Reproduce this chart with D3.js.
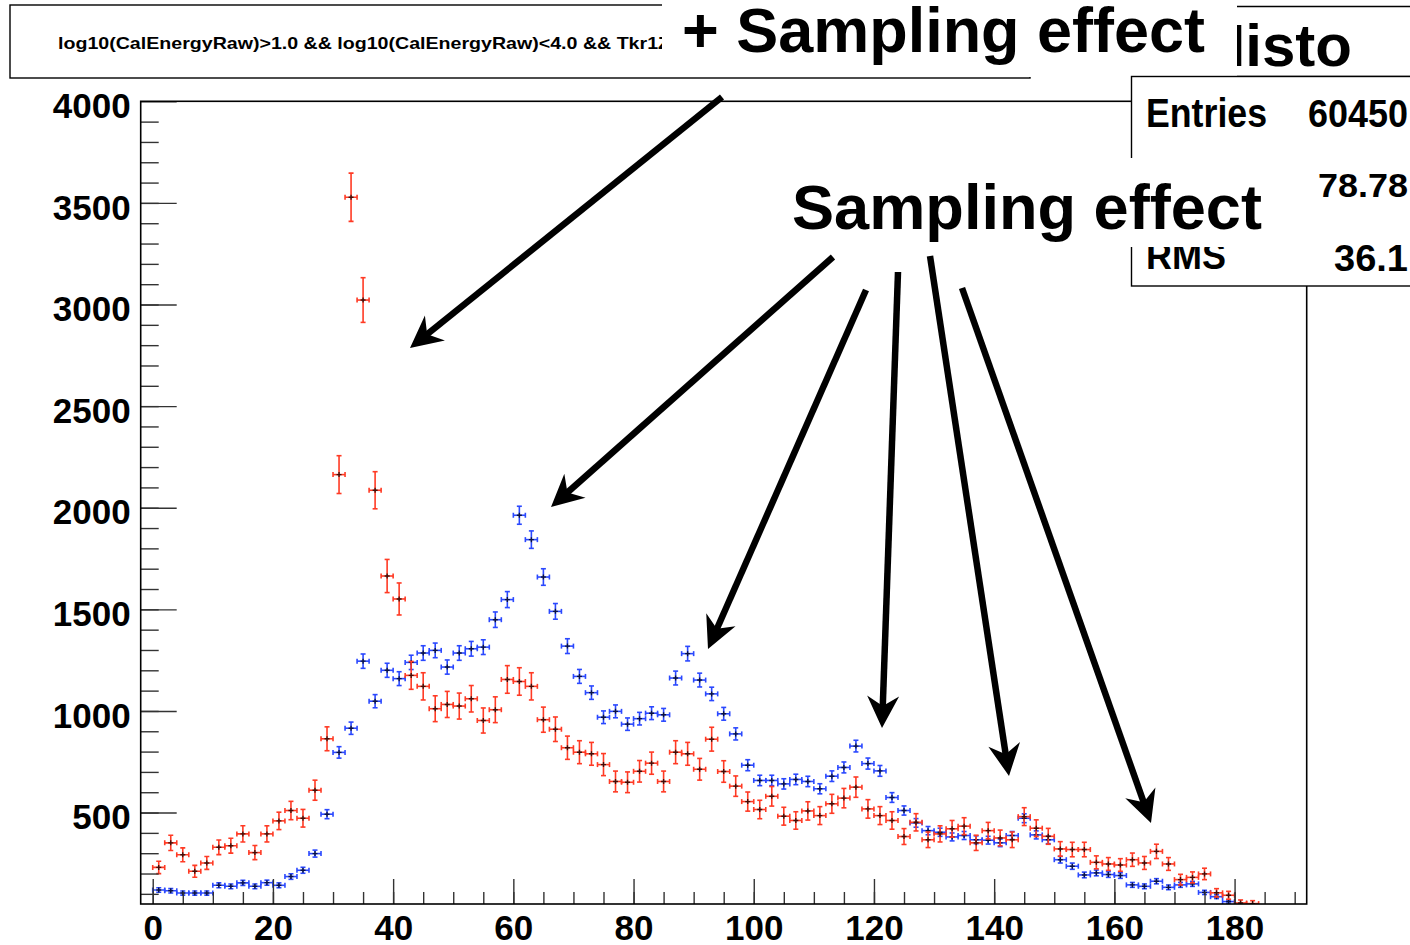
<!DOCTYPE html>
<html>
<head>
<meta charset="utf-8">
<script src="https://cdn.jsdelivr.net/npm/d3@7"></script>
<style>
  html, body { margin: 0; padding: 0; background: #fff; }
  svg { display: block; }
  text { font-family: "Liberation Sans", Arial, Helvetica, sans-serif; font-weight: bold; }
</style>
</head>
<body>
<svg id="chart" width="1410" height="945"></svg>
<script>
// ---------------- DATA ----------------
// bin centres (bin width 2)
const binCenters = d3.range(1, 184, 2);
// red histogram (weighted, weight 4)
const redValues = [230, 351, 292, 211, 252, 329, 337, 395, 303, 395,
  459, 510, 472, 610, 863, 2163, 3528, 3022, 2086, 1664,
  1551, 1175, 1121, 1011, 1032, 1024, 1060, 953, 1006, 1155,
  1145, 1121, 957, 910, 819, 797, 789, 736, 653, 649,
  703, 743, 653, 797, 789, 713, 861, 702, 630, 554,
  515, 580, 482, 461, 508, 485, 543, 571, 625, 518,
  485, 461, 382, 452, 366, 395, 420, 433, 351, 411,
  375, 366, 480, 423, 383, 321, 318, 318, 255, 247,
  242, 268, 252, 309, 247, 170, 181, 198, 105, 93,
  55, 52];
// blue histogram (unit weights)
const blueValues = [119, 115, 104, 104, 104, 142, 137, 154, 137, 155,
  142, 185, 216, 298, 492, 796, 915, 1245, 1048, 1200,
  1159, 1239, 1285, 1298, 1216, 1285, 1306, 1314, 1449, 1548,
  1963, 1843, 1659, 1490, 1319, 1170, 1090, 969, 998, 935,
  962, 989, 981, 1162, 1282, 1152, 1084, 986, 887, 733,
  658, 658, 641, 663, 653, 617, 679, 722, 827, 741,
  705, 574, 510, 449, 411, 403, 380, 387, 366, 364,
  351, 387, 472, 390, 366, 268, 236, 193, 203, 195,
  190, 144, 137, 162, 132, 144, 149, 107, 86, 62];
const redWeight = 4;   // error = sqrt(weight * content)
const blueWeight = 1;
const binHalfWidth = 1;

const xMajorTicks = [0, 20, 40, 60, 80, 100, 120, 140, 160, 180];
const yMajorTicks = [500, 1000, 1500, 2000, 2500, 3000, 3500, 4000];
const xDomain = [-2, 192];
const yDomain = [50, 4000];

const titleText = "log10(CalEnergyRaw)>1.0 && log10(CalEnergyRaw)<4.0 && Tkr1Z";
const statsTitle = "Histo";
const statsRows = [["Entries", "60450"], ["Mean", "78.78"], ["RMS", "36.1"]];
const annotationTop = "+ Sampling effect";
const annotationMid = "Sampling effect";

// ---------------- LAYOUT ----------------
const svg = d3.select("#chart");
const frame = {left: 140.7, right: 1306.7, top: 101.3, bottom: 904};
const x = d3.scaleLinear().domain(xDomain).range([frame.left, frame.right]);
const y = d3.scaleLinear().domain(yDomain).range([frame.bottom, frame.top]);

const RED = "#ff3a24";
const BLUE = "#2a48ff";

svg.append("rect").attr("width", 1410).attr("height", 945).attr("fill", "#fff");

const defs = svg.append("defs");
defs.append("clipPath").attr("id", "plotclip")
  .append("rect").attr("x", frame.left).attr("y", frame.top)
  .attr("width", frame.right - frame.left).attr("height", frame.bottom - frame.top);

// ---------------- DATA MARKS ----------------
function drawSeries(values, weight, color) {
  const pts = values.map((v, i) => ({c: binCenters[i], v: v, e: Math.sqrt(weight * v)}))
    .filter(d => d.v >= yDomain[0]);
  const g = svg.append("g").attr("clip-path", "url(#plotclip)")
    .attr("stroke", color).attr("stroke-width", 1.6).attr("fill", "none");
  const pg = g.selectAll("g.pt").data(pts).join("g").attr("class", "pt");
  pg.append("line")
    .attr("x1", d => x(d.c - binHalfWidth)).attr("x2", d => x(d.c + binHalfWidth))
    .attr("y1", d => y(d.v)).attr("y2", d => y(d.v));
  pg.append("line")
    .attr("x1", d => x(d.c - binHalfWidth)).attr("x2", d => x(d.c - binHalfWidth))
    .attr("y1", d => y(d.v) - 2.5).attr("y2", d => y(d.v) + 2.5);
  pg.append("line")
    .attr("x1", d => x(d.c + binHalfWidth)).attr("x2", d => x(d.c + binHalfWidth))
    .attr("y1", d => y(d.v) - 2.5).attr("y2", d => y(d.v) + 2.5);
  pg.append("line")
    .attr("x1", d => x(d.c)).attr("x2", d => x(d.c))
    .attr("y1", d => y(d.v - d.e)).attr("y2", d => y(d.v + d.e));
  pg.append("line")
    .attr("x1", d => x(d.c) - 2.5).attr("x2", d => x(d.c) + 2.5)
    .attr("y1", d => y(d.v - d.e)).attr("y2", d => y(d.v - d.e));
  pg.append("line")
    .attr("x1", d => x(d.c) - 2.5).attr("x2", d => x(d.c) + 2.5)
    .attr("y1", d => y(d.v + d.e)).attr("y2", d => y(d.v + d.e));
  pg.append("path")
    .attr("d", d => `M${x(d.c) - 2.5},${y(d.v)}H${x(d.c) + 2.5}M${x(d.c)},${y(d.v) - 2.5}V${y(d.v) + 2.5}`)
    .attr("stroke", "#000").attr("stroke-opacity", 0.75).attr("stroke-width", 1.4);
}
drawSeries(blueValues, blueWeight, BLUE);
drawSeries(redValues, redWeight, RED);

// ---------------- AXES ----------------
const axisFont = 35;
const tickColor = "#333";

const xMinor = svg.append("g").attr("transform", `translate(0,${frame.bottom})`)
  .call(d3.axisBottom(x).tickValues(d3.range(0, 191, 5)).tickSizeInner(-12).tickSizeOuter(0).tickFormat(""));
const xMajor = svg.append("g").attr("transform", `translate(0,${frame.bottom})`)
  .call(d3.axisBottom(x).tickValues(xMajorTicks).tickSizeInner(-25).tickSizeOuter(0).tickPadding(11).tickFormat(d3.format("d")));
const yMinor = svg.append("g").attr("transform", `translate(${frame.left},0)`)
  .call(d3.axisLeft(y).tickValues(d3.range(100, 4000, 100)).tickSizeInner(-18).tickSizeOuter(0).tickFormat(""));
const yMajor = svg.append("g").attr("transform", `translate(${frame.left},0)`)
  .call(d3.axisLeft(y).tickValues(yMajorTicks).tickSizeInner(-36).tickSizeOuter(0).tickPadding(10).tickFormat(d3.format("d")));

[xMinor, xMajor, yMinor, yMajor].forEach(g => {
  g.select(".domain").remove();
  g.selectAll(".tick line").attr("stroke", tickColor).attr("stroke-width", 1.4);
  g.selectAll(".tick text").attr("font-size", axisFont).attr("fill", "#000")
    .attr("font-family", "'Liberation Sans', Arial, sans-serif").attr("font-weight", "bold");
});
yMajor.selectAll(".tick text").attr("dy", "0.46em");

svg.append("rect").attr("x", frame.left).attr("y", frame.top)
  .attr("width", frame.right - frame.left).attr("height", frame.bottom - frame.top)
  .attr("fill", "none").attr("stroke", "#000").attr("stroke-width", 1.6);

// ---------------- TITLE BOX ----------------
svg.append("rect").attr("x", 10).attr("y", 5).attr("width", 1020).attr("height", 73)
  .attr("fill", "#fff").attr("stroke", "#000").attr("stroke-width", 1.4);
defs.append("clipPath").attr("id", "titleclip")
  .append("rect").attr("x", 10).attr("y", 5).attr("width", 652).attr("height", 73);
svg.append("text").attr("clip-path", "url(#titleclip)")
  .attr("x", 58).attr("y", 49).attr("font-size", 16.5)
  .attr("textLength", 612).attr("lengthAdjust", "spacingAndGlyphs")
  .text(titleText);

svg.append("rect").attr("x", 662).attr("y", 0).attr("width", 575).attr("height", 77).attr("fill", "#fff");
svg.append("text").attr("x", 682).attr("y", 52).attr("font-size", 63)
  .attr("textLength", 523).attr("lengthAdjust", "spacingAndGlyphs").text(annotationTop);

// ---------------- STATS BOX ----------------
defs.append("clipPath").attr("id", "histoclip")
  .append("rect").attr("x", 1237).attr("y", 0).attr("width", 200).attr("height", 80);
defs.append("clipPath").attr("id", "rmsclip")
  .append("rect").attr("x", 1131).attr("y", 247).attr("width", 300).attr("height", 40);
const sb = svg.append("g");
sb.append("path").attr("d", "M1237,6.5H1412").attr("stroke", "#000").attr("stroke-width", 1.4);
sb.append("path").attr("d", "M1237,76.5H1412").attr("stroke", "#000").attr("stroke-width", 1.4);
sb.append("text").attr("clip-path", "url(#histoclip)")
  .attr("x", 1352).attr("y", 66).attr("text-anchor", "end").attr("font-size", 60).text(statsTitle);
sb.append("rect").attr("x", 1131.5).attr("y", 76.5).attr("width", 300).attr("height", 209.5)
  .attr("fill", "#fff").attr("stroke", "#000").attr("stroke-width", 1.4);
sb.append("text").attr("x", 1146).attr("y", 127).attr("font-size", 40)
  .attr("textLength", 121).attr("lengthAdjust", "spacingAndGlyphs").text(statsRows[0][0]);
sb.append("text").attr("x", 1408).attr("y", 127).attr("font-size", 38).attr("text-anchor", "end")
  .attr("textLength", 100).attr("lengthAdjust", "spacingAndGlyphs").text(statsRows[0][1]);
sb.append("text").attr("x", 1408).attr("y", 197).attr("font-size", 33).attr("text-anchor", "end")
  .attr("textLength", 90).attr("lengthAdjust", "spacingAndGlyphs").text(statsRows[1][1]);
sb.append("text").attr("clip-path", "url(#rmsclip)").attr("x", 1146).attr("y", 269).attr("font-size", 38)
  .attr("textLength", 80).attr("lengthAdjust", "spacingAndGlyphs").text(statsRows[2][0]);
sb.append("text").attr("x", 1408).attr("y", 271).attr("font-size", 37).attr("text-anchor", "end")
  .attr("textLength", 74).attr("lengthAdjust", "spacingAndGlyphs").text(statsRows[2][1]);

svg.append("rect").attr("x", 780).attr("y", 158).attr("width", 510).attr("height", 89).attr("fill", "#fff");
svg.append("text").attr("x", 792).attr("y", 229).attr("font-size", 63)
  .attr("textLength", 470).attr("lengthAdjust", "spacingAndGlyphs").text(annotationMid);

// ---------------- ARROWS ----------------
const arrows = [
  [[722, 97], [410, 348]],
  [[833, 257], [551, 507]],
  [[866, 290], [708, 649]],
  [[898, 272], [882, 728]],
  [[930, 256], [1009, 776]],
  [[962, 288], [1151, 823]]
];
const headLen = 32, headHalf = 16, notch = 10;
arrows.forEach(([[x0, y0], [x1, y1]]) => {
  const dx = x1 - x0, dy = y1 - y0, L = Math.hypot(dx, dy);
  const ux = dx / L, uy = dy / L, nx = -uy, ny = ux;
  const bx = x1 - ux * headLen, by = y1 - uy * headLen;
  const kx = x1 - ux * (headLen - notch), ky = y1 - uy * (headLen - notch);
  svg.append("line").attr("x1", x0).attr("y1", y0).attr("x2", kx + ux * 2).attr("y2", ky + uy * 2)
    .attr("stroke", "#000").attr("stroke-width", 6.5);
  svg.append("path")
    .attr("d", `M${x1},${y1}L${bx + nx * headHalf},${by + ny * headHalf}L${kx},${ky}L${bx - nx * headHalf},${by - ny * headHalf}Z`)
    .attr("fill", "#000");
});
</script>
</body>
</html>
